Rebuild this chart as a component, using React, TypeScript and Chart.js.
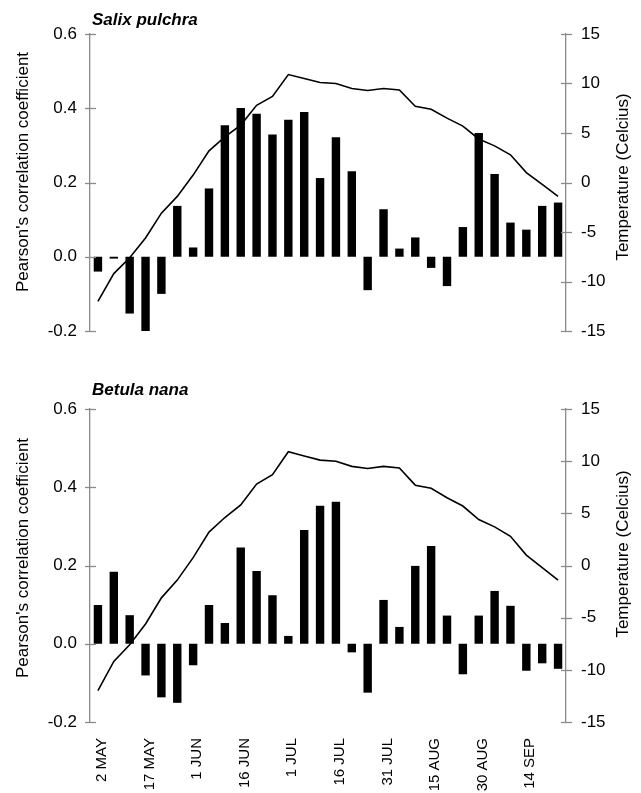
import React, { useEffect, useRef } from 'react';
import { Chart, registerables } from 'chart.js';

Chart.register(...registerables);

const dates = [
  '2 MAY', '7 MAY', '12 MAY', '17 MAY', '22 MAY', '27 MAY',
  '1 JUN', '6 JUN', '11 JUN', '16 JUN', '21 JUN', '26 JUN',
  '1 JUL', '6 JUL', '11 JUL', '16 JUL', '21 JUL', '26 JUL',
  '31 JUL', '5 AUG', '10 AUG', '15 AUG', '20 AUG', '25 AUG',
  '30 AUG', '4 SEP', '9 SEP', '14 SEP', '19 SEP', '24 SEP',
];
const shownDates = ['2 MAY', '17 MAY', '1 JUN', '16 JUN', '1 JUL', '16 JUL', '31 JUL', '15 AUG', '30 AUG', '14 SEP'];

const temperature = [
  -12.0, -9.2, -7.6, -5.6, -3.1, -1.4, 0.75, 3.2, 4.6, 5.8,
  7.8, 8.7, 10.9, 10.5, 10.1, 10.0, 9.5, 9.3, 9.5, 9.35,
  7.7, 7.4, 6.5, 5.7, 4.4, 3.7, 2.8, 1.0, -0.2, -1.4,
];

const salixR = [
  -0.04, -0.005, -0.153, -0.205, -0.1, 0.137, 0.025, 0.184, 0.354, 0.401,
  0.385, 0.329, 0.369, 0.39, 0.212, 0.322, 0.23, -0.09, 0.128, 0.022,
  0.052, -0.03, -0.079, 0.08, 0.333, 0.223, 0.092, 0.073, 0.137, 0.146,
];

const betulaR = [
  0.099, 0.184, 0.073, -0.081, -0.137, -0.151, -0.055, 0.099, 0.053, 0.246,
  0.186, 0.124, 0.02, 0.291, 0.353, 0.363, -0.022, -0.125, 0.112, 0.043,
  0.199, 0.25, 0.072, -0.078, 0.072, 0.135, 0.097, -0.069, -0.05, -0.064,
];

const rTicks = [-0.2, 0.0, 0.2, 0.4, 0.6];
const tempTicks = [-15, -10, -5, 0, 5, 10, 15];

const FONT = '"Liberation Sans", Arial, sans-serif';
const AXIS = '#8a8a8a';

type PanelProps = {
  title: string;
  values: number[];
  showX: boolean;
  width: number;
  height: number;
  padTop: number;
  padBottom: number;
  xHeight: number;
  titleY: number;
  leftTitleY: number;
  rightTitleY: number;
};

function Panel(p: PanelProps) {
  const ref = useRef<HTMLCanvasElement | null>(null);
  useEffect(() => {
    if (!ref.current) return;
    const decor = {
      id: 'decor',
      afterDraw(chart: any) {
        const ctx = chart.ctx as CanvasRenderingContext2D;
        const ca = chart.chartArea;
        const y = chart.scales.y;
        const y1 = chart.scales.y1;
        ctx.save();
        ctx.strokeStyle = AXIS;
        ctx.lineWidth = 1.3;
        y.ticks.forEach((_t: any, i: number) => {
          const py = Math.round(y.getPixelForTick(i)) + 0.5;
          ctx.beginPath();
          ctx.moveTo(ca.left - 5, py);
          ctx.lineTo(ca.left + 6, py);
          ctx.stroke();
        });
        y1.ticks.forEach((_t: any, i: number) => {
          const py = Math.round(y1.getPixelForTick(i)) + 0.5;
          ctx.beginPath();
          ctx.moveTo(ca.right - 5, py);
          ctx.lineTo(ca.right + 6, py);
          ctx.stroke();
        });
        ctx.fillStyle = '#000';
        ctx.textBaseline = 'middle';
        ctx.textAlign = 'left';
        ctx.font = `italic bold 17px ${FONT}`;
        ctx.fillText(p.title, ca.left + 2, p.titleY);
        ctx.font = `17px ${FONT}`;
        ctx.textAlign = 'center';
        ctx.save();
        ctx.translate(23, p.leftTitleY);
        ctx.rotate(-Math.PI / 2);
        ctx.fillText("Pearson's correlation coefficient", 0, 0);
        ctx.restore();
        ctx.save();
        ctx.translate(623, p.rightTitleY);
        ctx.rotate(-Math.PI / 2);
        ctx.fillText('Temperature (Celcius)', 0, 0);
        ctx.restore();
        ctx.restore();
      },
    };
    const chart = new Chart(ref.current, {
      type: 'bar',
      data: {
        labels: dates,
        datasets: [
          {
            type: 'line',
            data: temperature,
            yAxisID: 'y1',
            borderColor: '#000',
            borderWidth: 1.6,
            pointRadius: 0,
            tension: 0,
            fill: false,
            order: 0,
          } as any,
          {
            type: 'bar',
            data: p.values,
            yAxisID: 'y',
            backgroundColor: '#000',
            borderWidth: 0,
            barPercentage: 0.53,
            categoryPercentage: 1,
            order: 1,
          },
        ],
      },
      options: {
        responsive: false,
        animation: false,
        layout: { padding: { top: p.padTop, bottom: p.padBottom, left: 0, right: 0 } },
        plugins: { legend: { display: false }, tooltip: { enabled: false }, title: { display: false } },
        scales: {
          x: {
            display: p.showX,
            offset: true,
            grid: { display: false, drawTicks: false },
            border: { display: false },
            afterFit: (s: any) => { s.height = p.xHeight; },
            ticks: {
              autoSkip: false,
              maxRotation: 90,
              minRotation: 90,
              padding: 16,
              labelOffset: 4,
              color: '#000',
              font: { family: FONT, size: 15 },
              callback: (_v: any, i: number) => (shownDates.includes(dates[i]) ? dates[i] : ''),
            },
          },
          y: {
            position: 'left',
            min: -0.2,
            max: 0.6,
            afterBuildTicks: (s: any) => { s.ticks = rTicks.map((v) => ({ value: v })); },
            afterFit: (s: any) => { s.width = 90; },
            grid: { display: false, drawTicks: false },
            border: { display: true, color: AXIS, width: 1.3 },
            ticks: {
              padding: 13,
              color: '#000',
              font: { family: FONT, size: 17 },
              callback: (v: any) => Number(v).toFixed(1),
            },
          },
          y1: {
            position: 'right',
            min: -15,
            max: 15,
            afterBuildTicks: (s: any) => { s.ticks = tempTicks.map((v) => ({ value: v })); },
            afterFit: (s: any) => { s.width = 75; },
            grid: { display: false, drawTicks: false },
            border: { display: true, color: AXIS, width: 1.3 },
            ticks: {
              padding: 15,
              color: '#000',
              font: { family: FONT, size: 17 },
              callback: (v: any) => String(v),
            },
          },
        },
      },
      plugins: [decor],
    });
    return () => chart.destroy();
  }, []);
  return <canvas ref={ref} width={p.width} height={p.height} style={{ display: 'block', width: p.width, height: p.height }} />;
}

export default function App() {
  return (
    <div style={{ position: 'absolute', left: 0, top: 0, width: 641, height: 793, background: '#fff' }}>
      <Panel
        title="Salix pulchra"
        values={salixR}
        showX={false}
        width={641}
        height={360}
        padTop={34}
        padBottom={29}
        xHeight={0}
        titleY={20}
        leftTitleY={172}
        rightTitleY={177}
      />
      <Panel
        title="Betula nana"
        values={betulaR}
        showX={true}
        width={641}
        height={433}
        padTop={49}
        padBottom={0}
        xHeight={71}
        titleY={30}
        leftTitleY={198}
        rightTitleY={194}
      />
    </div>
  );
}
